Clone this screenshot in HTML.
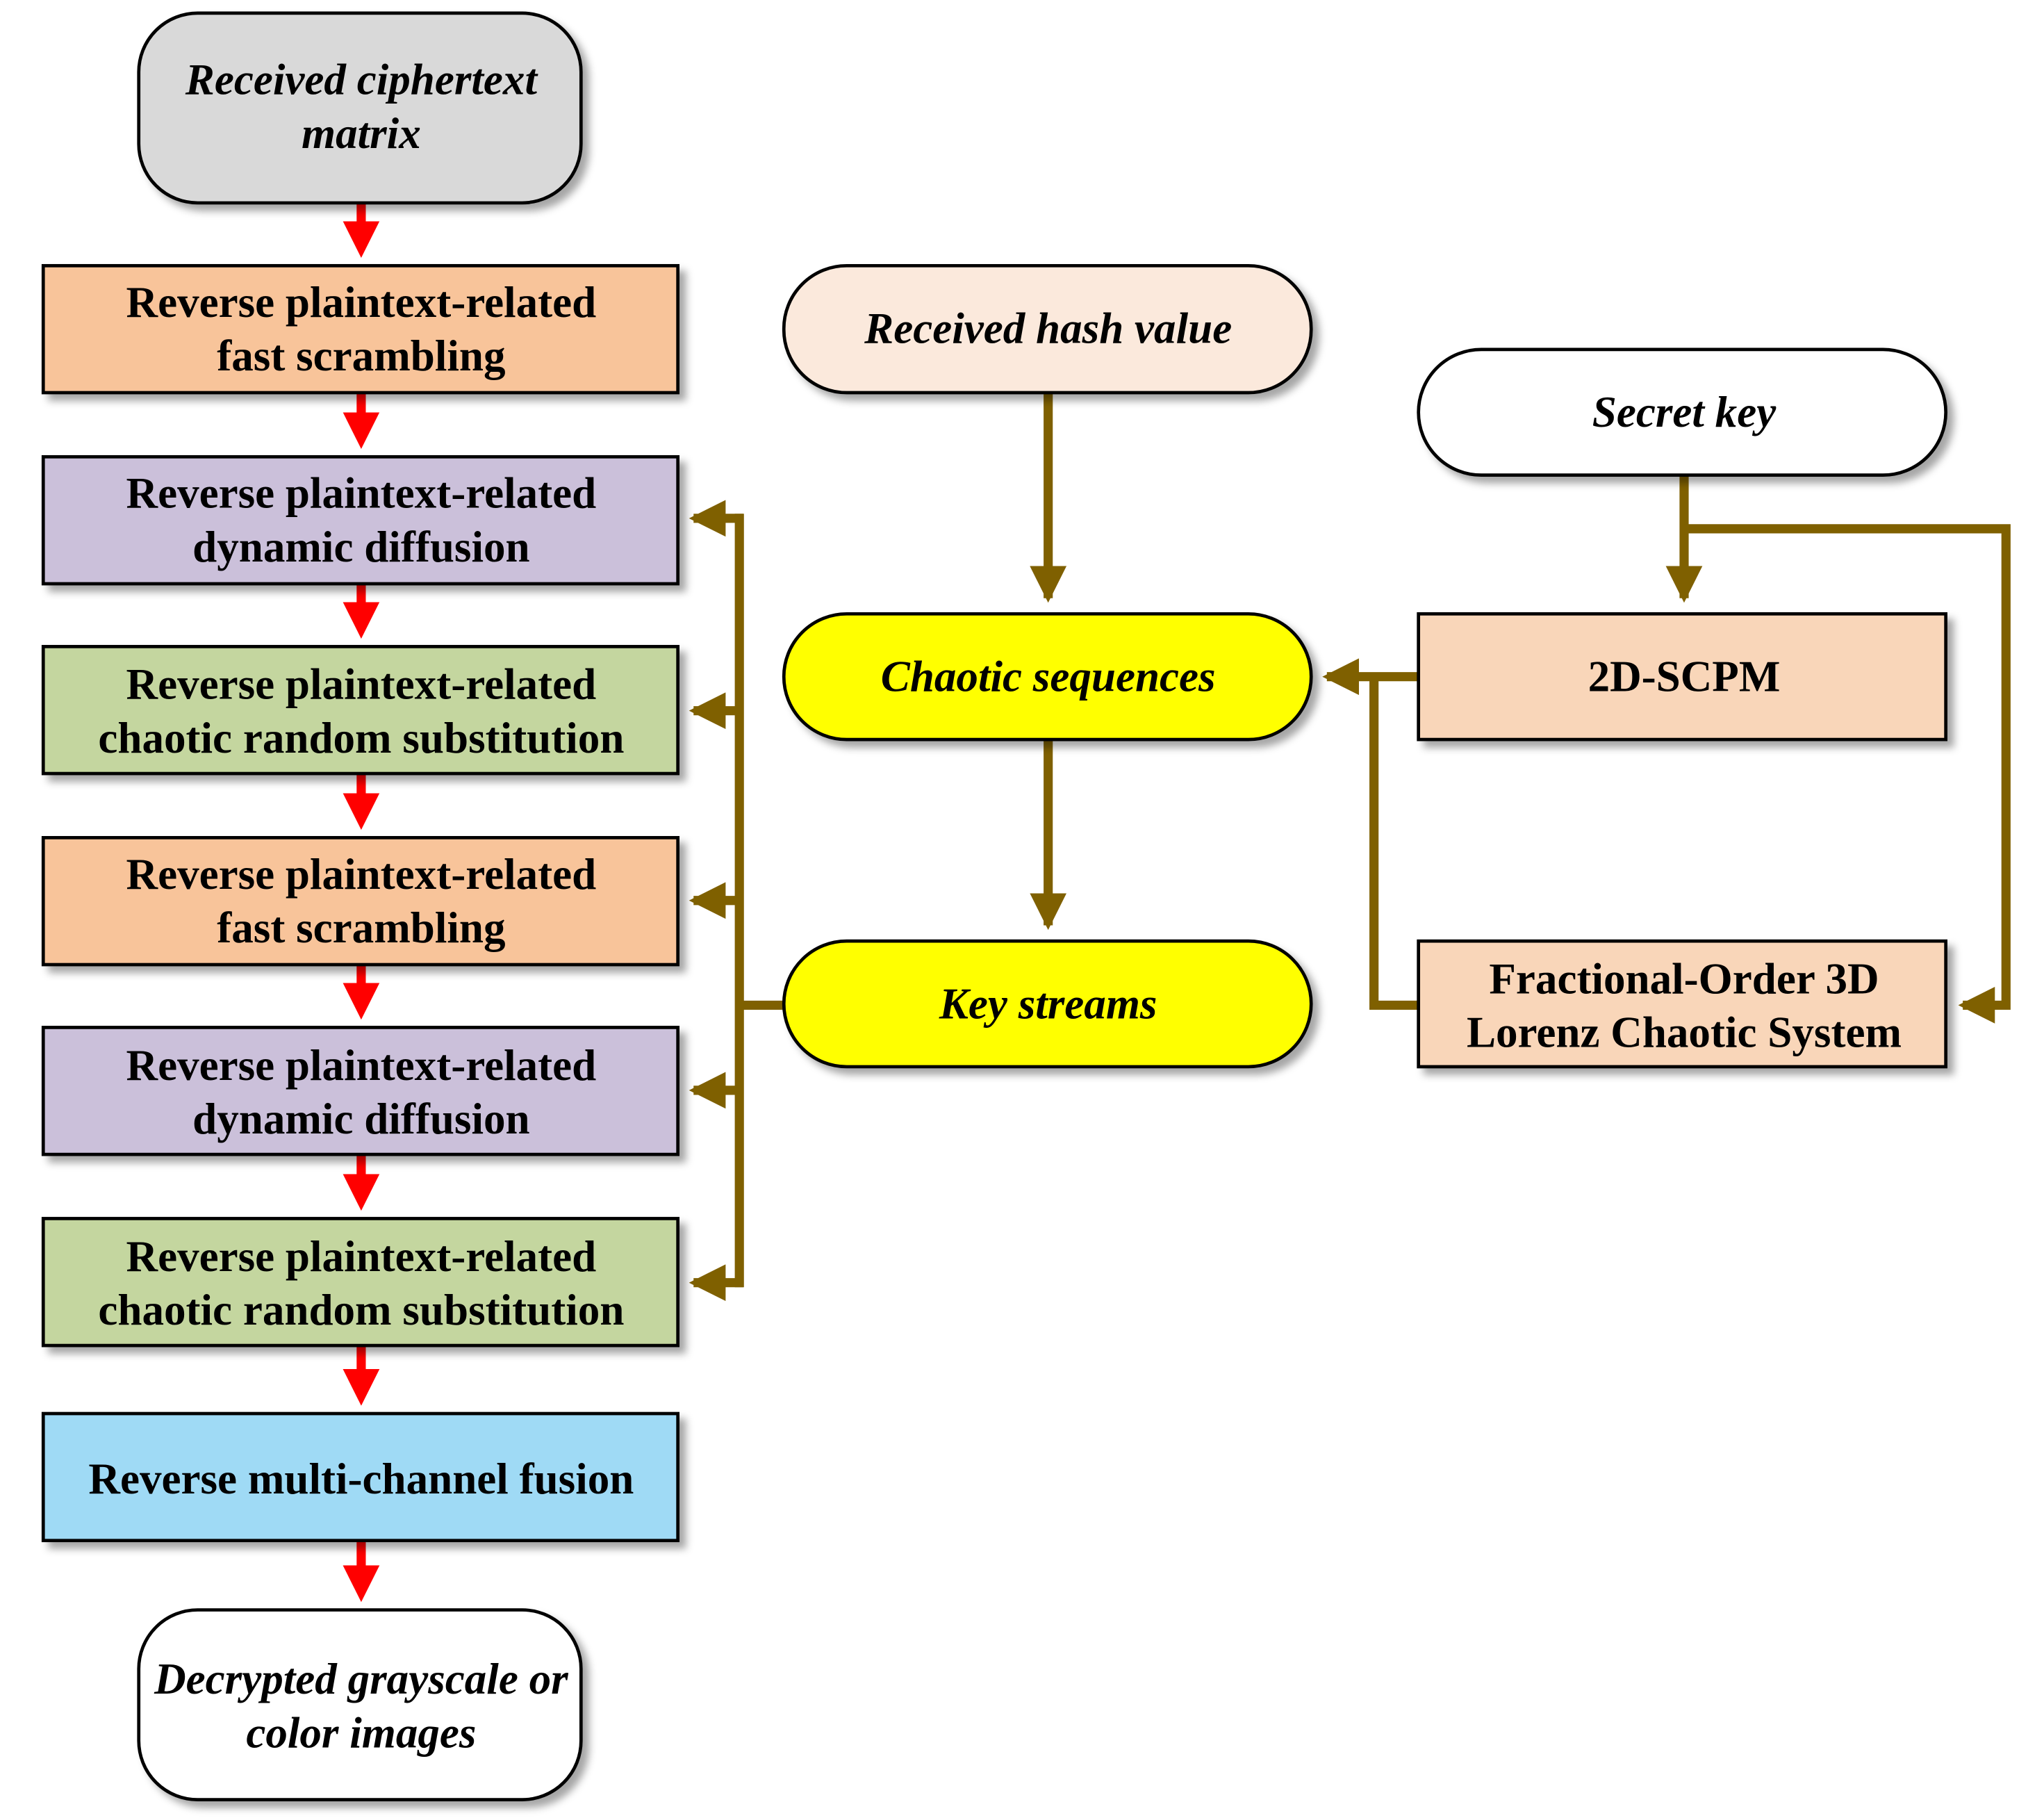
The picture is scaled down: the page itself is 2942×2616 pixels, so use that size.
<!DOCTYPE html>
<html><head><style>html,body{margin:0;padding:0;background:#fff}svg{display:block}</style></head><body>
<svg width="2942" height="2616" viewBox="0 0 1562 1389" xmlns="http://www.w3.org/2000/svg">
<defs>
<filter id="sh" x="-10%" y="-10%" width="130%" height="140%"><feDropShadow dx="5" dy="5" stdDeviation="3" flood-color="#000" flood-opacity="0.35"/></filter>
<marker id="ar" markerWidth="4" markerHeight="4" refX="3" refY="2" orient="auto" markerUnits="strokeWidth"><path d="M0,0 L4,2 L0,4 Z" fill="#ff0000"/></marker>
<marker id="ab" markerWidth="4" markerHeight="4" refX="3.5" refY="2" orient="auto" markerUnits="strokeWidth"><path d="M0,0 L4,2 L0,4 Z" fill="#7f6000"/></marker>
</defs>
<g font-family="Liberation Serif, serif" font-weight="bold" text-anchor="middle" font-size="33.5">
<g stroke="#ff0000" stroke-width="7" fill="none">
<line x1="276" y1="155" x2="276" y2="190" marker-end="url(#ar)"/>
<line x1="276" y1="300" x2="276" y2="336" marker-end="url(#ar)"/>
<line x1="276" y1="446" x2="276" y2="481" marker-end="url(#ar)"/>
<line x1="276" y1="591" x2="276" y2="627" marker-end="url(#ar)"/>
<line x1="276" y1="737" x2="276" y2="772" marker-end="url(#ar)"/>
<line x1="276" y1="882" x2="276" y2="918" marker-end="url(#ar)"/>
<line x1="276" y1="1028" x2="276" y2="1067" marker-end="url(#ar)"/>
<line x1="276" y1="1177" x2="276" y2="1217" marker-end="url(#ar)"/>
</g>
<g stroke="#7f6000" stroke-width="7" fill="none">
<line x1="801" y1="300" x2="801" y2="457" marker-end="url(#ab)"/>
<line x1="801" y1="565" x2="801" y2="707" marker-end="url(#ab)"/>
<line x1="1287" y1="363" x2="1287" y2="457" marker-end="url(#ab)"/>
<polyline points="1287,404 1533,404 1533,768 1500,768" marker-end="url(#ab)"/>
<line x1="1084" y1="517" x2="1014" y2="517" marker-end="url(#ab)"/>
<polyline points="1084,768 1050,768 1050,517"/>
<polyline points="599,768 565,768"/>
<line x1="565" y1="392.5" x2="565" y2="983.5"/>
<polyline points="568,396 530,396" marker-end="url(#ab)"/>
<polyline points="565,543 530,543" marker-end="url(#ab)"/>
<polyline points="565,688 530,688" marker-end="url(#ab)"/>
<polyline points="565,833 530,833" marker-end="url(#ab)"/>
<polyline points="568,980 530,980" marker-end="url(#ab)"/>
</g>
<g stroke="#000" stroke-width="2.5" filter="url(#sh)">
<rect x="106" y="10" width="338" height="145" rx="45" fill="#d9d9d9"/>
<rect x="33" y="203" width="485" height="97" fill="#f8c49a"/>
<rect x="33" y="349" width="485" height="97" fill="#cbc0da"/>
<rect x="33" y="494" width="485" height="97" fill="#c4d69f"/>
<rect x="33" y="640" width="485" height="97" fill="#f8c49a"/>
<rect x="33" y="785" width="485" height="97" fill="#cbc0da"/>
<rect x="33" y="931" width="485" height="97" fill="#c4d69f"/>
<rect x="33" y="1080" width="485" height="97" fill="#9fdaf5"/>
<rect x="106" y="1230" width="338" height="145" rx="45" fill="#fff"/>
<rect x="599" y="203" width="403" height="97" rx="48" fill="#fbe9dc"/>
<rect x="599" y="469" width="403" height="96" rx="48" fill="#ffff00"/>
<rect x="599" y="719" width="403" height="96" rx="48" fill="#ffff00"/>
<rect x="1084" y="267" width="403" height="96" rx="48" fill="#fff"/>
<rect x="1084" y="469" width="403" height="96" fill="#f9d6b9"/>
<rect x="1084" y="719" width="403" height="96" fill="#f9d6b9"/>
</g>
<g font-style="italic">
<text x="276" y="72">Received ciphertext</text>
<text x="276" y="113">matrix</text>
<text x="276" y="1294">Decrypted grayscale or</text>
<text x="276" y="1335">color images</text>
<text x="801" y="262">Received hash value</text>
<text x="801" y="528">Chaotic sequences</text>
<text x="801" y="778">Key streams</text>
<text x="1287" y="326">Secret key</text>
</g>
<text x="276" y="242">Reverse plaintext-related</text><text x="276" y="283">fast scrambling</text>
<text x="276" y="388">Reverse plaintext-related</text><text x="276" y="429">dynamic diffusion</text>
<text x="276" y="534">Reverse plaintext-related</text><text x="276" y="575">chaotic random substitution</text>
<text x="276" y="679">Reverse plaintext-related</text><text x="276" y="720">fast scrambling</text>
<text x="276" y="825">Reverse plaintext-related</text><text x="276" y="866">dynamic diffusion</text>
<text x="276" y="971">Reverse plaintext-related</text><text x="276" y="1012">chaotic random substitution</text>
<text x="276" y="1141">Reverse multi-channel fusion</text>
<text x="1287" y="528">2D-SCPM</text>
<text x="1287" y="759">Fractional-Order 3D</text><text x="1287" y="800">Lorenz Chaotic System</text>
</g>
</svg>
</body></html>
